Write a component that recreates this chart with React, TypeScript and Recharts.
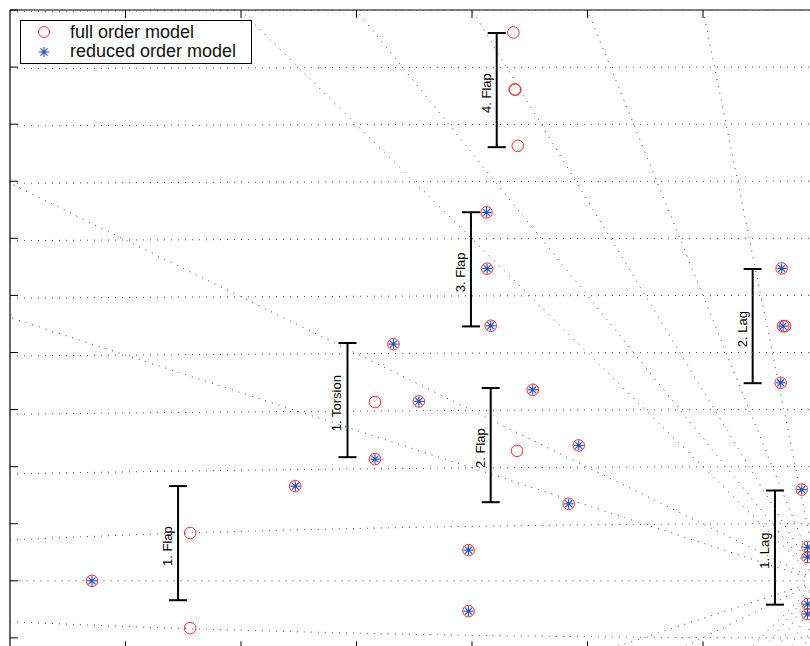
import { ScatterChart, Scatter, XAxis, YAxis, ErrorBar } from "recharts";

const fullOrderPoles = [
  { re: -0.629, im: 0.0 },
  { re: -0.544, im: 0.837 },
  { re: -0.544, im: -0.829 },
  { re: -0.453, im: 1.658 },
  { re: -0.384, im: 2.132 },
  { re: -0.368, im: 4.147 },
  { re: -0.384, im: 3.131 },
  { re: -0.346, im: 3.143 },
  { re: -0.303, im: 0.538 },
  { re: -0.303, im: -0.531 },
  { re: -0.2874, im: 6.455 },
  { re: -0.2869, im: 5.468 },
  { re: -0.2838, im: 4.468 },
  { re: -0.2474, im: 3.346 },
  { re: -0.2163, im: 1.349 },
  { re: -0.2076, im: 2.372 },
  { re: -0.261, im: 2.278 },
  { re: -0.2642, im: 9.607 },
  { re: -0.263, im: 8.609 },
  { re: -0.2625, im: 8.603 },
  { re: -0.2604, im: 7.621 },
  { re: -0.0319, im: 5.473 },
  { re: -0.0307, im: 4.462 },
  { re: -0.029, im: 4.462 },
  { re: -0.0327, im: 3.469 },
  { re: -0.0145, im: 1.598 },
  { re: -0.0095, im: 0.59 },
  { re: -0.0095, im: 0.415 },
  { re: -0.0095, im: -0.408 },
  { re: -0.0095, im: -0.583 },
];

const reducedOrderPoles = [
  { re: -0.629, im: 0.0 },
  { re: -0.453, im: 1.658 },
  { re: -0.384, im: 2.132 },
  { re: -0.368, im: 4.147 },
  { re: -0.346, im: 3.143 },
  { re: -0.303, im: 0.538 },
  { re: -0.303, im: -0.531 },
  { re: -0.2874, im: 6.455 },
  { re: -0.2869, im: 5.468 },
  { re: -0.2838, im: 4.468 },
  { re: -0.2474, im: 3.346 },
  { re: -0.2163, im: 1.349 },
  { re: -0.2076, im: 2.372 },
  { re: -0.0319, im: 5.473 },
  { re: -0.0307, im: 4.462 },
  { re: -0.0327, im: 3.469 },
  { re: -0.0145, im: 1.598 },
  { re: -0.0095, im: 0.59 },
  { re: -0.0095, im: 0.415 },
  { re: -0.0095, im: -0.408 },
  { re: -0.0095, im: -0.583 },
];

const modeLabels = ["1. Flap", "1. Torsion", "2. Flap", "3. Flap", "4. Flap", "2. Lag", "1. Lag"];
const modeBarRe = [-0.5545, -0.4078, -0.2838, -0.3009, -0.2786, -0.057, -0.0377];
const modeBarIm = [0.66, 3.166, 2.377, 5.457, 8.597, 4.462, 0.582];
const modeBarHalf = [1, 1, 1, 1, 1, 1, 1];

const xTicks = [-0.7, -0.6, -0.5, -0.4, -0.3, -0.2, -0.1, 0];
const yTicks = [-1, 0, 1, 2, 3, 4, 5, 6, 7, 8, 9, 10];

// s-plane grid: damping ratio rays and natural frequency arcs
const dampingRatios = [0.01, 0.02, 0.03, 0.04, 0.05, 0.1, 0.15, 1];
const naturalFreqs = [1, 2, 3, 4, 5, 6, 7, 8, 9, 10];

const X_MIN = -0.7;
const X_MAX = 0.05;
const Y_MIN = -1.2;
const Y_MAX = 10;

const RED = "#ff2a2a";
const BLUE = "#1f4fc4";
const GRID = "#444";
const FONT = "'Liberation Sans', Arial, sans-serif";

const mode = modeLabels.map((label, i) => ({
  label,
  re: modeBarRe[i],
  im: modeBarIm[i],
  err: modeBarHalf[i],
}));

function dampingRay(z: number, sign: number) {
  const dx = -z;
  const dy = sign * Math.sqrt(1 - z * z);
  let t = 100;
  if (dx < 0) t = Math.min(t, X_MIN / dx);
  if (dy > 0) t = Math.min(t, Y_MAX / dy);
  if (dy < 0) t = Math.min(t, Y_MIN / dy);
  return [
    { re: 0, im: 0 },
    { re: dx * t, im: dy * t },
  ];
}

function freqArc(wn: number, sign: number) {
  const pts: { re: number; im: number }[] = [];
  for (let i = 0; i <= 70; i++) {
    const re = X_MIN + (i / 70) * (0 - X_MIN);
    const v = wn * wn - re * re;
    if (v < 0) continue;
    const im = sign * Math.sqrt(v);
    if (im < Y_MIN || im > Y_MAX) continue;
    pts.push({ re, im });
  }
  return pts;
}

const gridSeries: { re: number; im: number }[][] = [];
dampingRatios.forEach((z) => {
  gridSeries.push(dampingRay(z, 1));
  if (z < 1) gridSeries.push(dampingRay(z, -1));
});
naturalFreqs.forEach((wn) => {
  const up = freqArc(wn, 1);
  const dn = freqArc(wn, -1);
  if (up.length > 1) gridSeries.push(up);
  if (dn.length > 1) gridSeries.push(dn);
});

const Empty = () => <g />;

const OpenCircle = ({ cx, cy }: any) => (
  <circle cx={cx} cy={cy} r={5.8} fill="none" stroke={RED} strokeWidth={1} />
);

const Asterisk = ({ cx, cy }: any) => {
  const r = 5;
  const d = r * 0.7071;
  return (
    <g stroke={BLUE} strokeWidth={1.1} fill="none">
      <line x1={cx - r} y1={cy} x2={cx + r} y2={cy} />
      <line x1={cx} y1={cy - r} x2={cx} y2={cy + r} />
      <line x1={cx - d} y1={cy - d} x2={cx + d} y2={cy + d} />
      <line x1={cx - d} y1={cy + d} x2={cx + d} y2={cy - d} />
      <circle cx={cx} cy={cy} r={1.3} fill={BLUE} stroke="none" />
    </g>
  );
};

const ModeLabel = ({ cx, cy, payload }: any) => {
  const x = cx - 6;
  const y = cy + 3;
  return (
    <text
      x={x}
      y={y}
      transform={`rotate(-90 ${x} ${y})`}
      textAnchor="middle"
      fontSize={13}
      fontFamily={FONT}
      fill="#000"
    >
      {payload.label}
    </text>
  );
};

const axisStyle = {
  type: "number" as const,
  allowDataOverflow: true,
  mirror: true,
  tick: Empty,
  tickSize: 8,
  axisLine: { stroke: "#000", strokeWidth: 1.2 },
  tickLine: { stroke: "#000", strokeWidth: 1 },
};

const legendText: React.CSSProperties = {
  position: "absolute",
  left: 49,
  fontSize: 18,
  lineHeight: "20px",
  fontFamily: FONT,
  color: "#111",
  whiteSpace: "nowrap",
};

export default function App() {
  return (
    <div
      style={{
        position: "fixed",
        left: 0,
        top: 0,
        width: 810,
        height: 646,
        overflow: "hidden",
        background: "#fff",
      }}
    >
      <ScatterChart
        width={886.25}
        height={670}
        margin={{ top: 10, right: 10, bottom: 20.7, left: 10 }}
      >
        <XAxis {...axisStyle} dataKey="re" domain={[X_MIN, X_MAX]} ticks={xTicks} />
        <XAxis
          {...axisStyle}
          xAxisId="top"
          orientation="top"
          dataKey="re"
          domain={[X_MIN, X_MAX]}
          ticks={xTicks}
        />
        <YAxis {...axisStyle} dataKey="im" domain={[Y_MIN, Y_MAX]} ticks={yTicks} />
        {gridSeries.map((pts, i) => (
          <Scatter
            key={"g" + i}
            data={pts}
            shape={Empty}
            line={{ stroke: GRID, strokeWidth: 1, strokeDasharray: "1 6" }}
            lineType="joint"
            legendType="none"
            isAnimationActive={false}
          />
        ))}
        <Scatter
          name="full order model"
          data={fullOrderPoles}
          shape={OpenCircle}
          isAnimationActive={false}
        />
        <Scatter
          name="reduced order model"
          data={reducedOrderPoles}
          shape={Asterisk}
          isAnimationActive={false}
        />
        <Scatter data={mode} shape={ModeLabel} legendType="none" isAnimationActive={false}>
          <ErrorBar dataKey="err" direction="y" width={9} stroke="#000" strokeWidth={2} />
        </Scatter>
      </ScatterChart>
      <div
        style={{
          position: "absolute",
          left: 20,
          top: 20,
          width: 230,
          height: 42,
          border: "1px solid #000",
          background: "#fff",
        }}
      >
        <svg width={40} height={42} style={{ position: "absolute", left: 0, top: 0 }}>
          <circle cx={23} cy={11} r={5.5} fill="none" stroke={RED} strokeWidth={1} />
          <Asterisk cx={23} cy={31} />
        </svg>
        <span style={{ ...legendText, top: 1 }}>full order model</span>
        <span style={{ ...legendText, top: 20 }}>reduced order model</span>
      </div>
    </div>
  );
}
